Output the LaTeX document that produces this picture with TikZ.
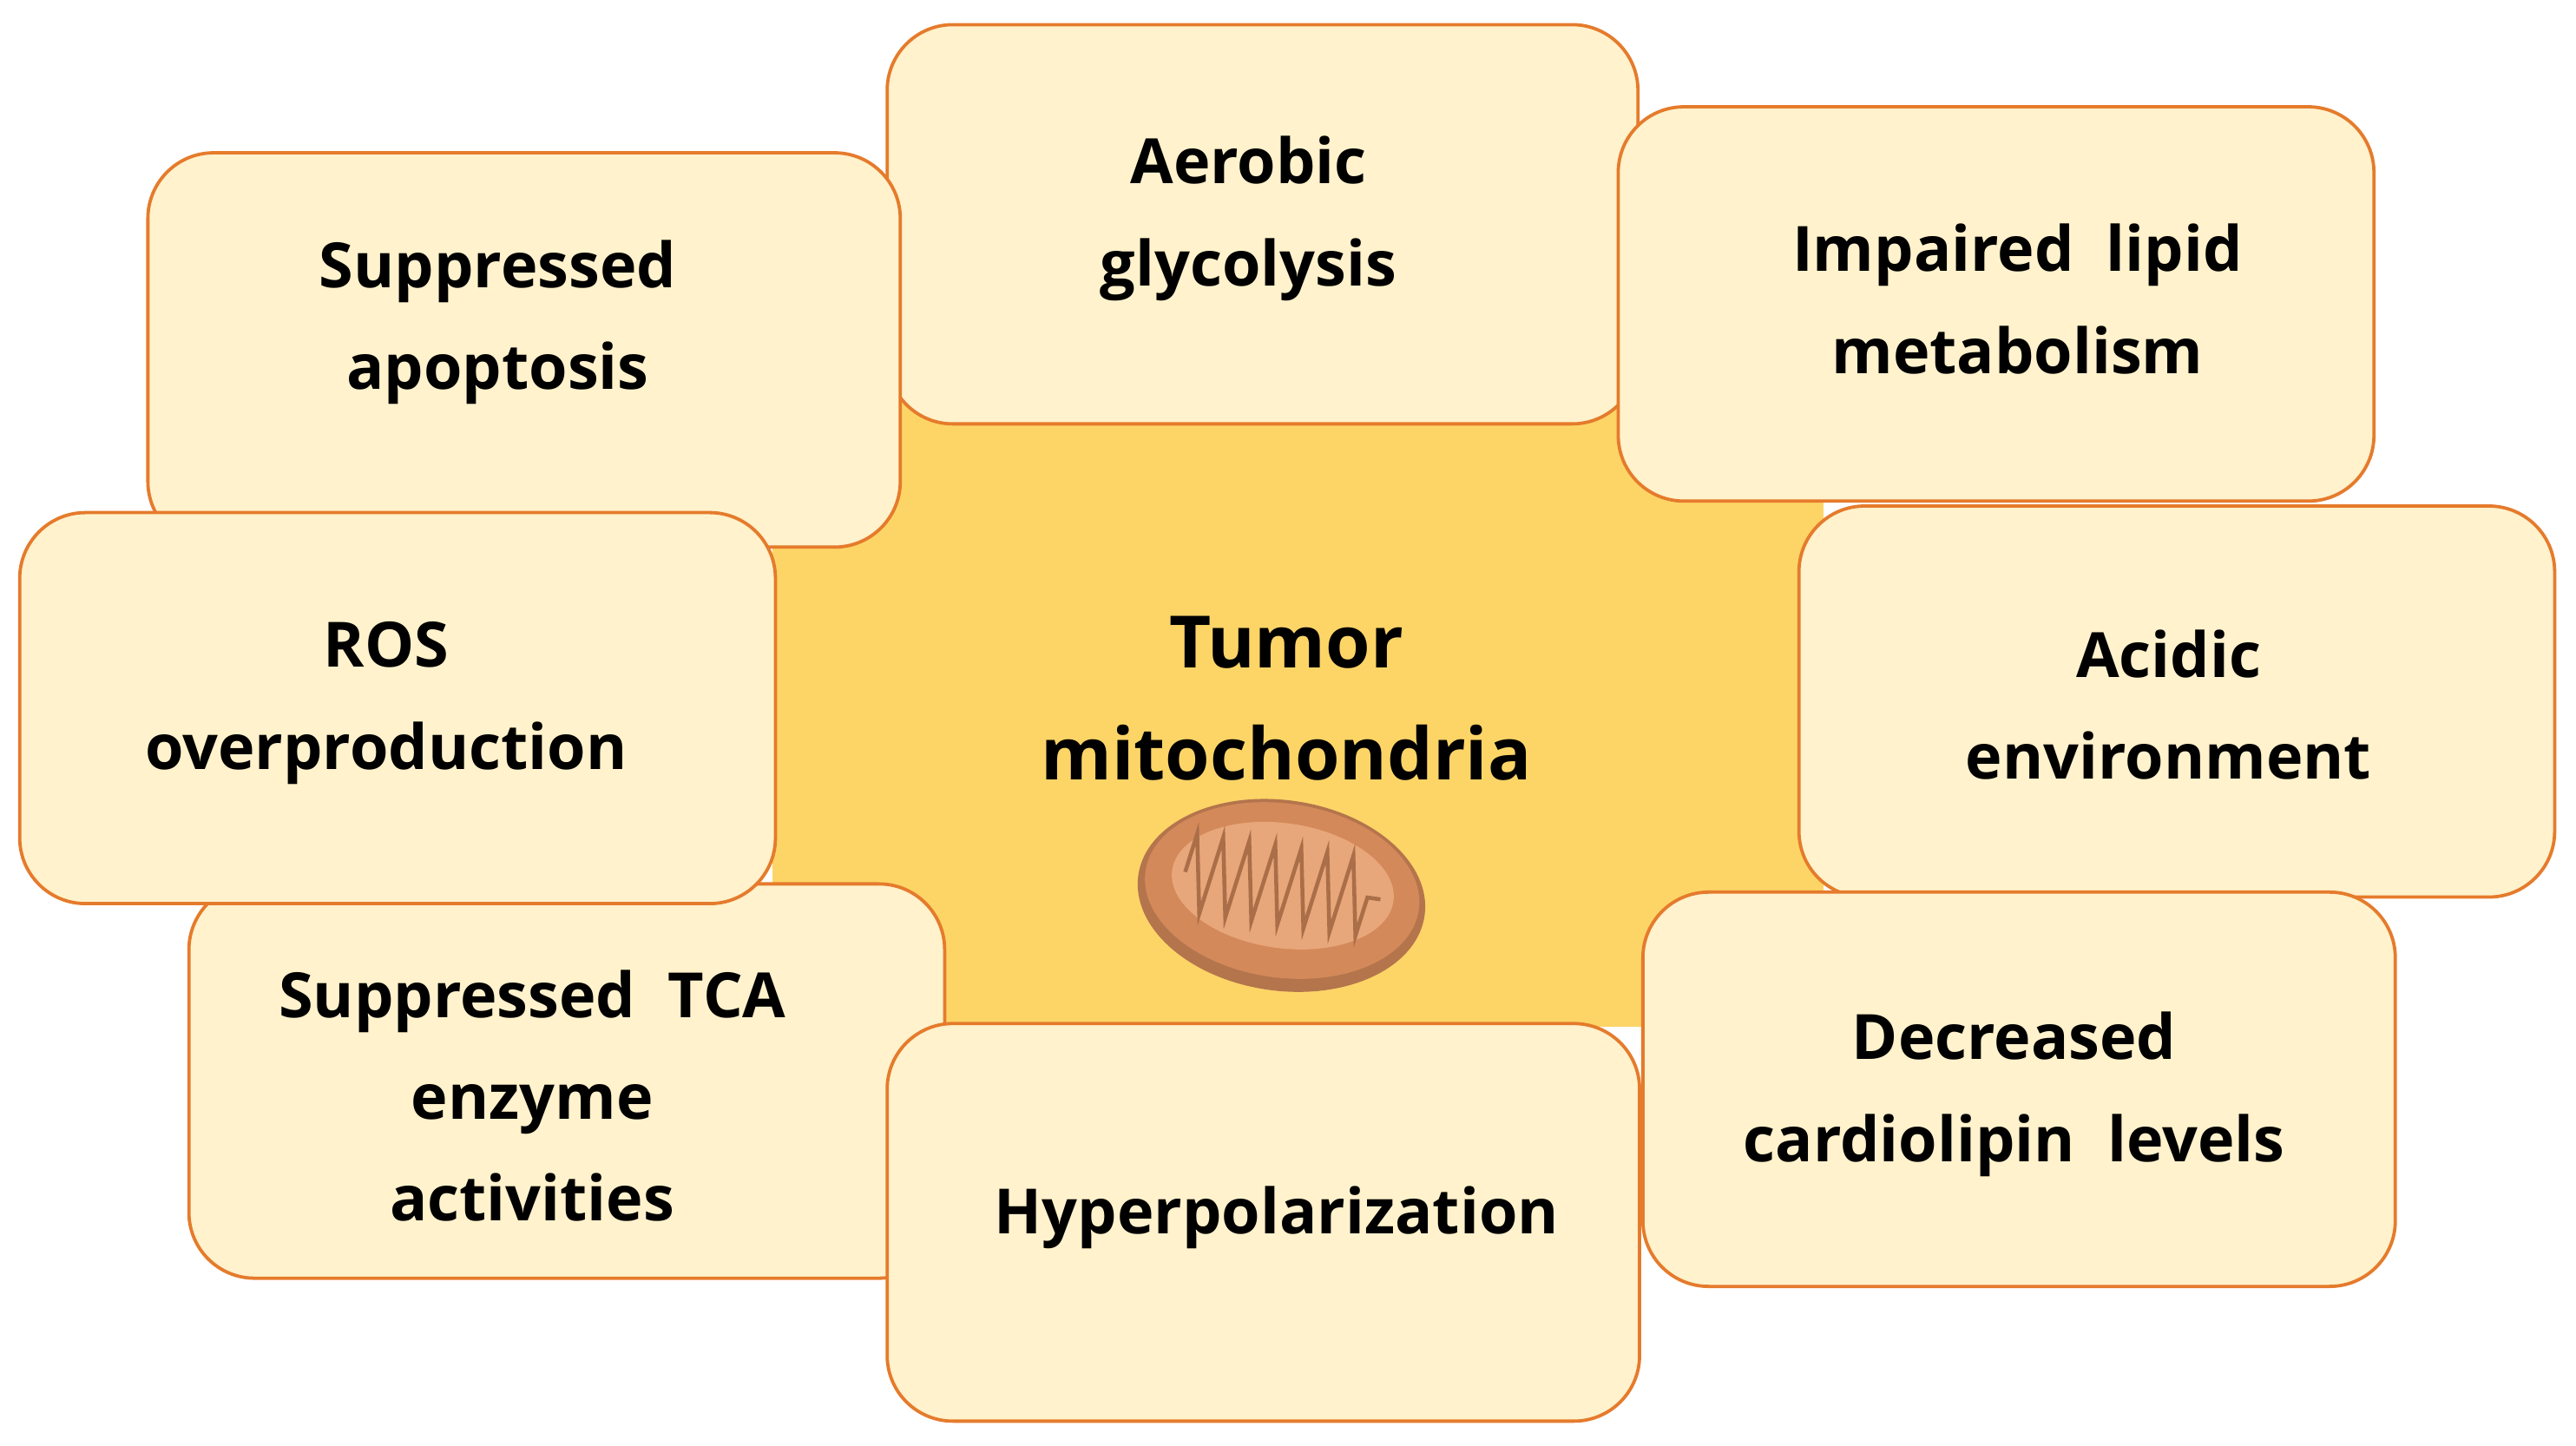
\documentclass[tikz,border=0pt]{standalone}
\usepackage{fontspec}
\setmainfont{Open Sans}
\usetikzlibrary{decorations.pathmorphing}
\definecolor{boxfill}{HTML}{FFF2CC}
\definecolor{boxline}{HTML}{E57B2C}
\definecolor{core}{HTML}{FDD567}
\definecolor{mito}{HTML}{D4895A}
\definecolor{mitoin}{HTML}{E8A77A}
\begin{document}
\begin{tikzpicture}[x=0.5pt,y=-0.5pt,
  box/.style={draw=boxline,fill=boxfill,line width=1pt,rounded corners=20pt},
  lbl/.style={align=center,font=\bfseries\fontsize{19}{31}\selectfont,text=black}]
\useasboundingbox (0,0) rectangle (1568,880);
\fill[core] (470,245) rectangle (1110,625);
\node[lbl,font=\bfseries\fontsize{22}{34}\selectfont] (center) at (783,425) {Tumor\\mitochondria};
% mitochondrion
\begin{scope}[shift={(780,545)},rotate=-8]
\fill[mito!85!black] (0,0) ellipse (88 and 58);
\fill[mito] (0,-3) ellipse (84 and 53);
\fill[mitoin] (0,-6) ellipse (68 and 38);
\draw[mito!80!black,line width=1.2pt,decorate,decoration={zigzag,segment length=8,amplitude=12}] (-60,-6) -- (60,-6);
\end{scope}
\draw[box] (540,15) rectangle (997,258);
\node[lbl] (aer) at (760,133) {Aerobic\\glycolysis};
\draw[box] (90,93) rectangle (548,333);
\node[lbl] (apo) at (303,196) {Suppressed\\apoptosis};
\draw[box] (115,538) rectangle (575,778);
\node[lbl] (tca) at (324,667) {Suppressed~~TCA\\enzyme\\activities};
\draw[box] (12,312) rectangle (472,550);
\node[lbl] (ros) at (235,428) {ROS\\overproduction};
\draw[box] (540,623) rectangle (998,865);
\node[lbl] (hyp) at (777,741) {Hyperpolarization};
\draw[box] (985,65) rectangle (1445,305);
\node[lbl] (lip) at (1228,182) {Impaired~~lipid\\metabolism};
\draw[box] (1095,308) rectangle (1555,546);
\node[lbl] (aci) at (1320,429) {Acidic\\environment};
\draw[box] (1000,543) rectangle (1458,783);
\node[lbl] (car) at (1226,666) {Decreased\\cardiolipin~~levels};
\end{tikzpicture}
\end{document}
